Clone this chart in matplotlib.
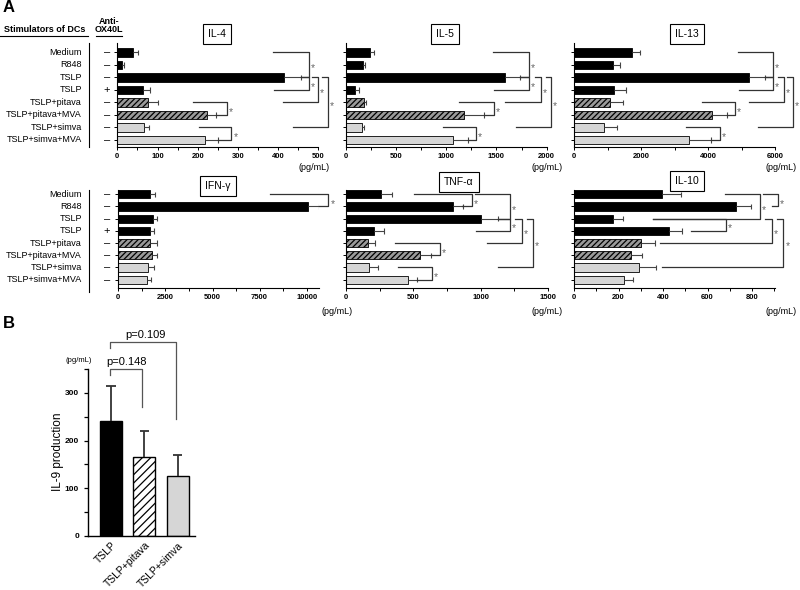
import matplotlib
matplotlib.use("Agg")
import matplotlib.pyplot as plt
from matplotlib.lines import Line2D
from matplotlib.transforms import blended_transform_factory

plt.rcParams['font.family'] = ['Liberation Sans', 'DejaVu Sans']
plt.rcParams['hatch.linewidth'] = 0.9

W, H = 800, 590

# ---- data ----
rows = ["Medium", "R848", "TSLP", "TSLP", "TSLP+pitava", "TSLP+pitava+MVA",
        "TSLP+simva", "TSLP+simva+MVA"]
anti_ox40l = ["–", "–", "–", "+", "–", "–", "–", "–"]

il4 = [40, 11, 415, 65, 77, 222, 66, 218]
il4_sd = [12, 6, 42, 16, 23, 23, 13, 33]
il5 = [242, 176, 1585, 93, 186, 1177, 159, 1071]
il5_sd = [43, 16, 150, 43, 16, 203, 23, 143]
il13 = [1720, 1175, 5235, 1195, 1075, 4110, 905, 3435]
il13_sd = [250, 200, 465, 345, 400, 447, 390, 645]
ifng = [1680, 10090, 1820, 1680, 1680, 1770, 1590, 1500]
ifng_sd = [265, 560, 250, 215, 355, 265, 305, 215]
tnfa = [259, 796, 1006, 210, 161, 553, 173, 462]
tnfa_sd = [80, 70, 123, 72, 54, 75, 67, 62]
il10 = [395, 728, 173, 428, 300, 255, 293, 225]
il10_sd = [87, 69, 49, 57, 65, 50, 76, 39]

il9_groups = ["TSLP", "TSLP+pitava", "TSLP+simva"]
il9 = [240, 166, 126]
il9_sd = [75, 54, 44]
p_values = ["p=0.148", "p=0.109"]

# significance brackets: (row a, row b, line start at a, line start at b, vertical x)
br_il4 = [(0, 2, 388, 457, 477), (2, 3, 457, 390, 477), (2, 4, 484, 413, 499),
          (2, 6, 509, 438, 524), (4, 5, 188, 245, 272), (6, 7, 204, 251, 284)]
br_il5 = [(0, 2, 1462, 1735, 1820), (2, 3, 1735, 1473, 1820), (2, 4, 1880, 1582, 1940),
          (2, 6, 1990, 1692, 2040), (4, 5, 1124, 1380, 1473), (6, 7, 966, 1214, 1293)]
br_il13 = [(0, 2, 4896, 5700, 5940), (2, 3, 5700, 4925, 5940), (2, 4, 6090, 5224, 6270),
           (2, 6, 6358, 5493, 6537), (4, 5, 3821, 4557, 4806), (6, 7, 3343, 4080, 4358)]
br_ifng = [(0, 1, 8055, 10654, 11140)]
br_tnfa = [(0, 1, 505, 865, 935), (0, 2, 958, 1129, 1217), (2, 3, 1129, 965, 1217),
           (2, 4, 1255, 1047, 1307), (2, 6, 1344, 1128, 1388), (4, 5, 364, 628, 698),
           (6, 7, 386, 524, 638)]
br_il10 = [(0, 1, 849, 890, 917), (0, 2, 679, 355, 836), (2, 3, 355, 526, 683),
           (2, 4, 858, 387, 890), (2, 6, 912, 396, 940)]

bar_face = ['black'] * 4 + ['#9a9a9a'] * 2 + ['#d6d6d6'] * 2
bar_hatch = [None] * 4 + ['//////'] * 2 + [None] * 2

fig = plt.figure(figsize=(W / 100, H / 100), dpi=100)


def px_axes(l, t, r, b):
    return fig.add_axes([l / W, 1 - b / H, (r - l) / W, (b - t) / H])


def figline(xs, ys, **kw):
    fig.add_artist(Line2D([x / W for x in xs], [1 - y / H for y in ys],
                          transform=fig.transFigure, **kw))


def figtext(x, y, s, **kw):
    fig.text(x / W, 1 - y / H, s, **kw)


def cytokine(box, ylim, vals, sd, xlim, major, minor, brackets):
    ax = px_axes(*box)
    y = list(range(len(vals)))
    bars = ax.barh(y, vals, height=0.68, color=bar_face, edgecolor='black', linewidth=0.6)
    for p, h in zip(bars, bar_hatch):
        if h:
            p.set_hatch(h)
    tops = [v + s for v, s in zip(vals, sd)]
    ax.hlines(y, vals, tops, color='#444444', lw=0.8, zorder=1)
    ax.vlines(tops, [r - 0.22 for r in y], [r + 0.22 for r in y], color='#444444', lw=0.8)
    for ra, rb, xa, xb, xv in brackets:
        ax.plot([xa, xv, xv, xb], [ra, ra, rb, rb], color='#333333', lw=0.9, clip_on=False)
        ax.annotate('*', (xv, (ra + rb) / 2), xytext=(1.5, -2.5), textcoords='offset points',
                    ha='left', va='center', fontsize=7.5, color='#666666',
                    annotation_clip=False)
    ax.set_xlim(*xlim)
    ax.set_ylim(*ylim)
    ax.set_yticks(y)
    ax.set_yticklabels([])
    ax.set_xticks(major)
    ax.set_xticks(minor, minor=True)
    ax.tick_params(axis='both', which='both', length=2.5, width=0.7, pad=2)
    ax.tick_params(axis='x', labelsize=5.5)
    for lab in ax.get_xticklabels():
        lab.set_fontweight('bold')
    for s in ['top', 'right']:
        ax.spines[s].set_visible(False)
    for s in ['left', 'bottom']:
        ax.spines[s].set_linewidth(0.8)
    return ax


top = (43, 147)
bot = (190, 288)
ylim_top = (7.576, -0.744)
ylim_bot = (7.68, -0.35)

ax4 = cytokine((117.3, top[0], 318.3, top[1]), ylim_top, il4, il4_sd, (0, 500),
               range(0, 501, 100), range(0, 501, 50), br_il4)
cytokine((345.7, top[0], 546.7, top[1]), ylim_top, il5, il5_sd, (0, 2000),
         range(0, 2001, 500), range(0, 2001, 250), br_il5)
cytokine((574, top[0], 775, top[1]), ylim_top, il13, il13_sd, (0, 6000),
         range(0, 6001, 2000), range(0, 6001, 1000), br_il13)
axg = cytokine((118.3, bot[0], 319, bot[1]), ylim_bot, ifng, ifng_sd, (0, 10650),
               range(0, 10001, 2500), range(0, 10001, 1250), br_ifng)
cytokine((346, bot[0], 548, bot[1]), ylim_bot, tnfa, tnfa_sd, (0, 1500),
         range(0, 1501, 500), range(0, 1501, 250), br_tnfa)
cytokine((574, bot[0], 775, bot[1]), ylim_bot, il10, il10_sd, (0, 903),
         range(0, 801, 200), range(0, 901, 100), br_il10)

# titles in boxes
box = dict(boxstyle='square,pad=0.5', fc='white', ec='black', lw=0.8)
for cx, cy, name in [(217, 34, "IL-4"), (445, 34, "IL-5"), (687, 34, "IL-13"),
                     (218, 186, "IFN-γ"), (459, 182, "TNF-α"), (687, 181, "IL-10")]:
    figtext(cx, cy, name, ha='center', va='center', fontsize=7.5, bbox=box)

# units
for x, y, ha in [(330, 168, 'right'), (563, 168, 'right'), (797, 168, 'right'),
                 (322, 312, 'left'), (563, 312, 'right'), (797, 312, 'right')]:
    figtext(x, y, "(pg/mL)", ha=ha, va='center', fontsize=6.5)

# row labels
for ax in [ax4, axg]:
    tr = blended_transform_factory(fig.transFigure, ax.transData)
    for i, (name, a) in enumerate(zip(rows, anti_ox40l)):
        ax.text(82 / W, i, name, transform=tr, ha='right', va='center', fontsize=6.5)
        ax.text(107 / W, i, a, transform=tr, ha='center', va='center', fontsize=8)
figline([89, 89], [43, 147], color='black', lw=0.8)
figline([89, 89], [190, 292], color='black', lw=0.8)

figtext(45, 30, "Stimulators of DCs", ha='center', va='center', fontsize=6.5, fontweight='bold')
figline([0, 88], [36, 36], color='black', lw=0.8)
figtext(109, 21, "Anti-", ha='center', va='center', fontsize=6.5, fontweight='bold')
figtext(109, 30, "OX40L", ha='center', va='center', fontsize=6.5, fontweight='bold')
figline([96, 122], [36, 36], color='black', lw=0.8)

figtext(3, 8, "A", ha='left', va='center', fontsize=12, fontweight='bold')
figtext(3, 323, "B", ha='left', va='center', fontsize=12, fontweight='bold')

# ---- panel B ----
axb = px_axes(88, 369, 195, 536)
xb = list(range(len(il9)))
bb = axb.bar(xb, il9, width=0.66, color=['black', 'white', '#d6d6d6'],
             edgecolor='black', linewidth=1.0)
bb[1].set_hatch('////')
tops9 = [v + s for v, s in zip(il9, il9_sd)]
axb.vlines(xb, il9, tops9, color='#333333', lw=1.3, zorder=1)
axb.hlines(tops9, [x - 0.14 for x in xb], [x + 0.14 for x in xb], color='#333333', lw=1.3)
axb.set_xlim(-0.69, 2.52)
axb.set_ylim(0, 350)
axb.set_yticks([0, 100, 200, 300])
axb.set_yticks(range(0, 351, 50), minor=True)
axb.set_xticks(xb)
axb.set_xticklabels(il9_groups, rotation=45, ha='right', rotation_mode='anchor', fontsize=7.5)
axb.tick_params(axis='y', which='both', length=3, width=0.9, labelsize=6)
axb.tick_params(axis='x', length=0, pad=3)
for lab in axb.get_yticklabels():
    lab.set_fontweight('bold')
for s in ['top', 'right']:
    axb.spines[s].set_visible(False)
for s in ['left', 'bottom']:
    axb.spines[s].set_linewidth(1.0)

axb.plot([-0.03, -0.03, 0.93, 0.93], [337, 350, 350, 270], color='#555555', lw=0.9, clip_on=False)
axb.plot([-0.03, -0.03, 1.94, 1.94], [394, 406.6, 406.6, 245], color='#555555', lw=0.9, clip_on=False)
axb.text(0.48, 364, p_values[0], ha='center', va='center', fontsize=8, clip_on=False)
axb.text(1.04, 421, p_values[1], ha='center', va='center', fontsize=8, clip_on=False)

figtext(79, 360, "(pg/mL)", ha='center', va='center', fontsize=5.5)
figtext(58, 452, "IL-9 production", ha='center', va='center', rotation=90, fontsize=8.5)

fig.savefig("out.png", dpi=100)
